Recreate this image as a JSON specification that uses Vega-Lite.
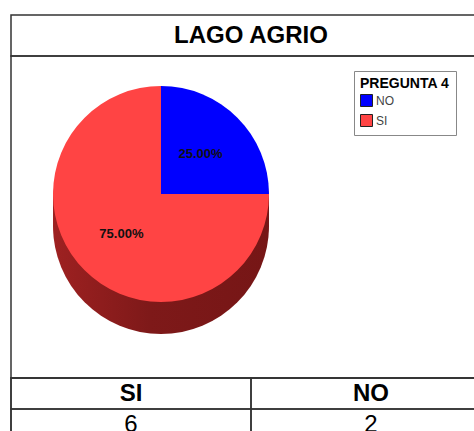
{
  "$schema": "https://vega.github.io/schema/vega-lite/v6.json",
  "padding": {"left": 9, "top": 14, "right": 0, "bottom": 0},
  "spacing": 0,
  "bounds": "flush",
  "datasets": {
    "respuestas": [
      {"respuesta": "NO", "cantidad": 2, "porcentaje": 0.25},
      {"respuesta": "SI", "cantidad": 6, "porcentaje": 0.75}
    ]
  },
  "resolve": {"scale": {"color": "independent"}, "legend": {"color": "independent"}},
  "vconcat": [
    {
      "width": 480,
      "height": 41,
      "view": {"stroke": "#333333", "strokeWidth": 1.5},
      "data": {"values": [{"titulo": "LAGO AGRIO"}]},
      "mark": {"type": "text", "font": "Liberation Sans", "fontSize": 24, "fontWeight": "bold", "color": "#000000", "baseline": "middle", "align": "center"},
      "encoding": {"text": {"field": "titulo"}}
    },
    {
      "width": 480,
      "height": 322,
      "view": {"stroke": "#333333", "strokeWidth": 1.5},
      "layer": [
        {
          "data": {"values": [{"capa": "lateral"}]},
          "mark": {"type": "arc", "radius": 108, "xOffset": -90, "yOffset": 9, "fill": {"gradient": "linear", "x1": 0, "y1": 0, "x2": 1, "y2": 0, "stops": [{"offset": 0, "color": "#9e2121"}, {"offset": 0.45, "color": "#7e1919"}, {"offset": 1, "color": "#761616"}]}},
          "encoding": {}
        },
        {
          "data": {"values": [{"capa": "lateral"}]},
          "mark": {"type": "arc", "radius": 108, "xOffset": -90, "yOffset": 3, "fill": {"gradient": "linear", "x1": 0, "y1": 0, "x2": 1, "y2": 0, "stops": [{"offset": 0, "color": "#9e2121"}, {"offset": 0.45, "color": "#7e1919"}, {"offset": 1, "color": "#761616"}]}},
          "encoding": {}
        },
        {
          "data": {"values": [{"capa": "lateral"}]},
          "mark": {"type": "arc", "radius": 108, "xOffset": -90, "yOffset": -3, "fill": {"gradient": "linear", "x1": 0, "y1": 0, "x2": 1, "y2": 0, "stops": [{"offset": 0, "color": "#9e2121"}, {"offset": 0.45, "color": "#7e1919"}, {"offset": 1, "color": "#761616"}]}},
          "encoding": {}
        },
        {
          "data": {"values": [{"capa": "lateral"}]},
          "mark": {"type": "arc", "radius": 108, "xOffset": -90, "yOffset": -9, "fill": {"gradient": "linear", "x1": 0, "y1": 0, "x2": 1, "y2": 0, "stops": [{"offset": 0, "color": "#9e2121"}, {"offset": 0.45, "color": "#7e1919"}, {"offset": 1, "color": "#761616"}]}},
          "encoding": {}
        },
        {
          "data": {"values": [{"capa": "lateral"}]},
          "mark": {"type": "arc", "radius": 108, "xOffset": -90, "yOffset": -15, "fill": {"gradient": "linear", "x1": 0, "y1": 0, "x2": 1, "y2": 0, "stops": [{"offset": 0, "color": "#9e2121"}, {"offset": 0.45, "color": "#7e1919"}, {"offset": 1, "color": "#761616"}]}},
          "encoding": {}
        },
        {
          "data": {"name": "respuestas"},
          "mark": {"type": "arc", "radius": 108, "xOffset": -90, "yOffset": -23},
          "encoding": {
            "theta": {"field": "cantidad", "type": "quantitative", "stack": true},
            "color": {
              "field": "respuesta",
              "type": "nominal",
              "scale": {"domain": ["NO", "SI"], "range": ["#0000FF", "#FF4444"]},
              "legend": {"title": "PREGUNTA 4", "orient": "none", "legendX": 343, "legendY": 15}
            },
            "order": {"field": "respuesta", "sort": "ascending"}
          }
        },
        {
          "data": {"name": "respuestas"},
          "mark": {"type": "text", "radius": 56, "xOffset": -90, "yOffset": -23, "font": "Liberation Sans", "fontSize": 13, "fontWeight": "bold", "color": "#111111"},
          "encoding": {
            "theta": {"field": "cantidad", "type": "quantitative", "stack": true},
            "detail": {"field": "respuesta"},
            "order": {"field": "respuesta", "sort": "ascending"},
            "text": {"field": "porcentaje", "type": "quantitative", "format": ".2%"}
          }
        }
      ]
    },
    {
      "width": 480,
      "height": 62,
      "view": {"stroke": "#333333", "strokeWidth": 1.5},
      "data": {"name": "respuestas"},
      "encoding": {
        "x": {"field": "respuesta", "type": "nominal", "sort": ["SI", "NO"], "scale": {"paddingInner": 0, "paddingOuter": 0}, "axis": null}
      },
      "layer": [
        {
          "mark": {"type": "rect", "fill": "transparent", "stroke": "#333333", "strokeWidth": 1.5},
          "encoding": {"y": {"datum": "encabezado", "type": "nominal", "scale": {"domain": ["encabezado", "valor"], "paddingInner": 0, "paddingOuter": 0}, "axis": null}}
        },
        {
          "mark": {"type": "rect", "fill": "transparent", "stroke": "#333333", "strokeWidth": 1.5},
          "encoding": {"y": {"datum": "valor", "type": "nominal", "axis": null}}
        },
        {
          "mark": {"type": "text", "font": "Liberation Sans", "fontSize": 24, "fontWeight": "bold", "color": "#000000", "baseline": "middle"},
          "encoding": {"y": {"datum": "encabezado", "type": "nominal", "axis": null}, "text": {"field": "respuesta"}}
        },
        {
          "mark": {"type": "text", "font": "Liberation Sans", "fontSize": 24, "color": "#000000", "baseline": "middle"},
          "encoding": {"y": {"datum": "valor", "type": "nominal", "axis": null}, "text": {"field": "cantidad", "type": "quantitative"}}
        }
      ]
    }
  ],
  "config": {
    "view": {"stroke": "#333333", "strokeWidth": 1.5},
    "legend": {
      "strokeColor": "#888888",
      "padding": 6,
      "titleFont": "Liberation Sans",
      "titleFontSize": 14,
      "titleFontWeight": "bold",
      "titleColor": "#000000",
      "titlePadding": 3,
      "labelFont": "Liberation Sans",
      "labelFontSize": 12,
      "labelColor": "#444444",
      "symbolType": "square",
      "symbolSize": 144,
      "symbolStrokeColor": "#222222",
      "symbolStrokeWidth": 1,
      "rowPadding": 3,
      "labelOffset": 3
    }
  }
}
